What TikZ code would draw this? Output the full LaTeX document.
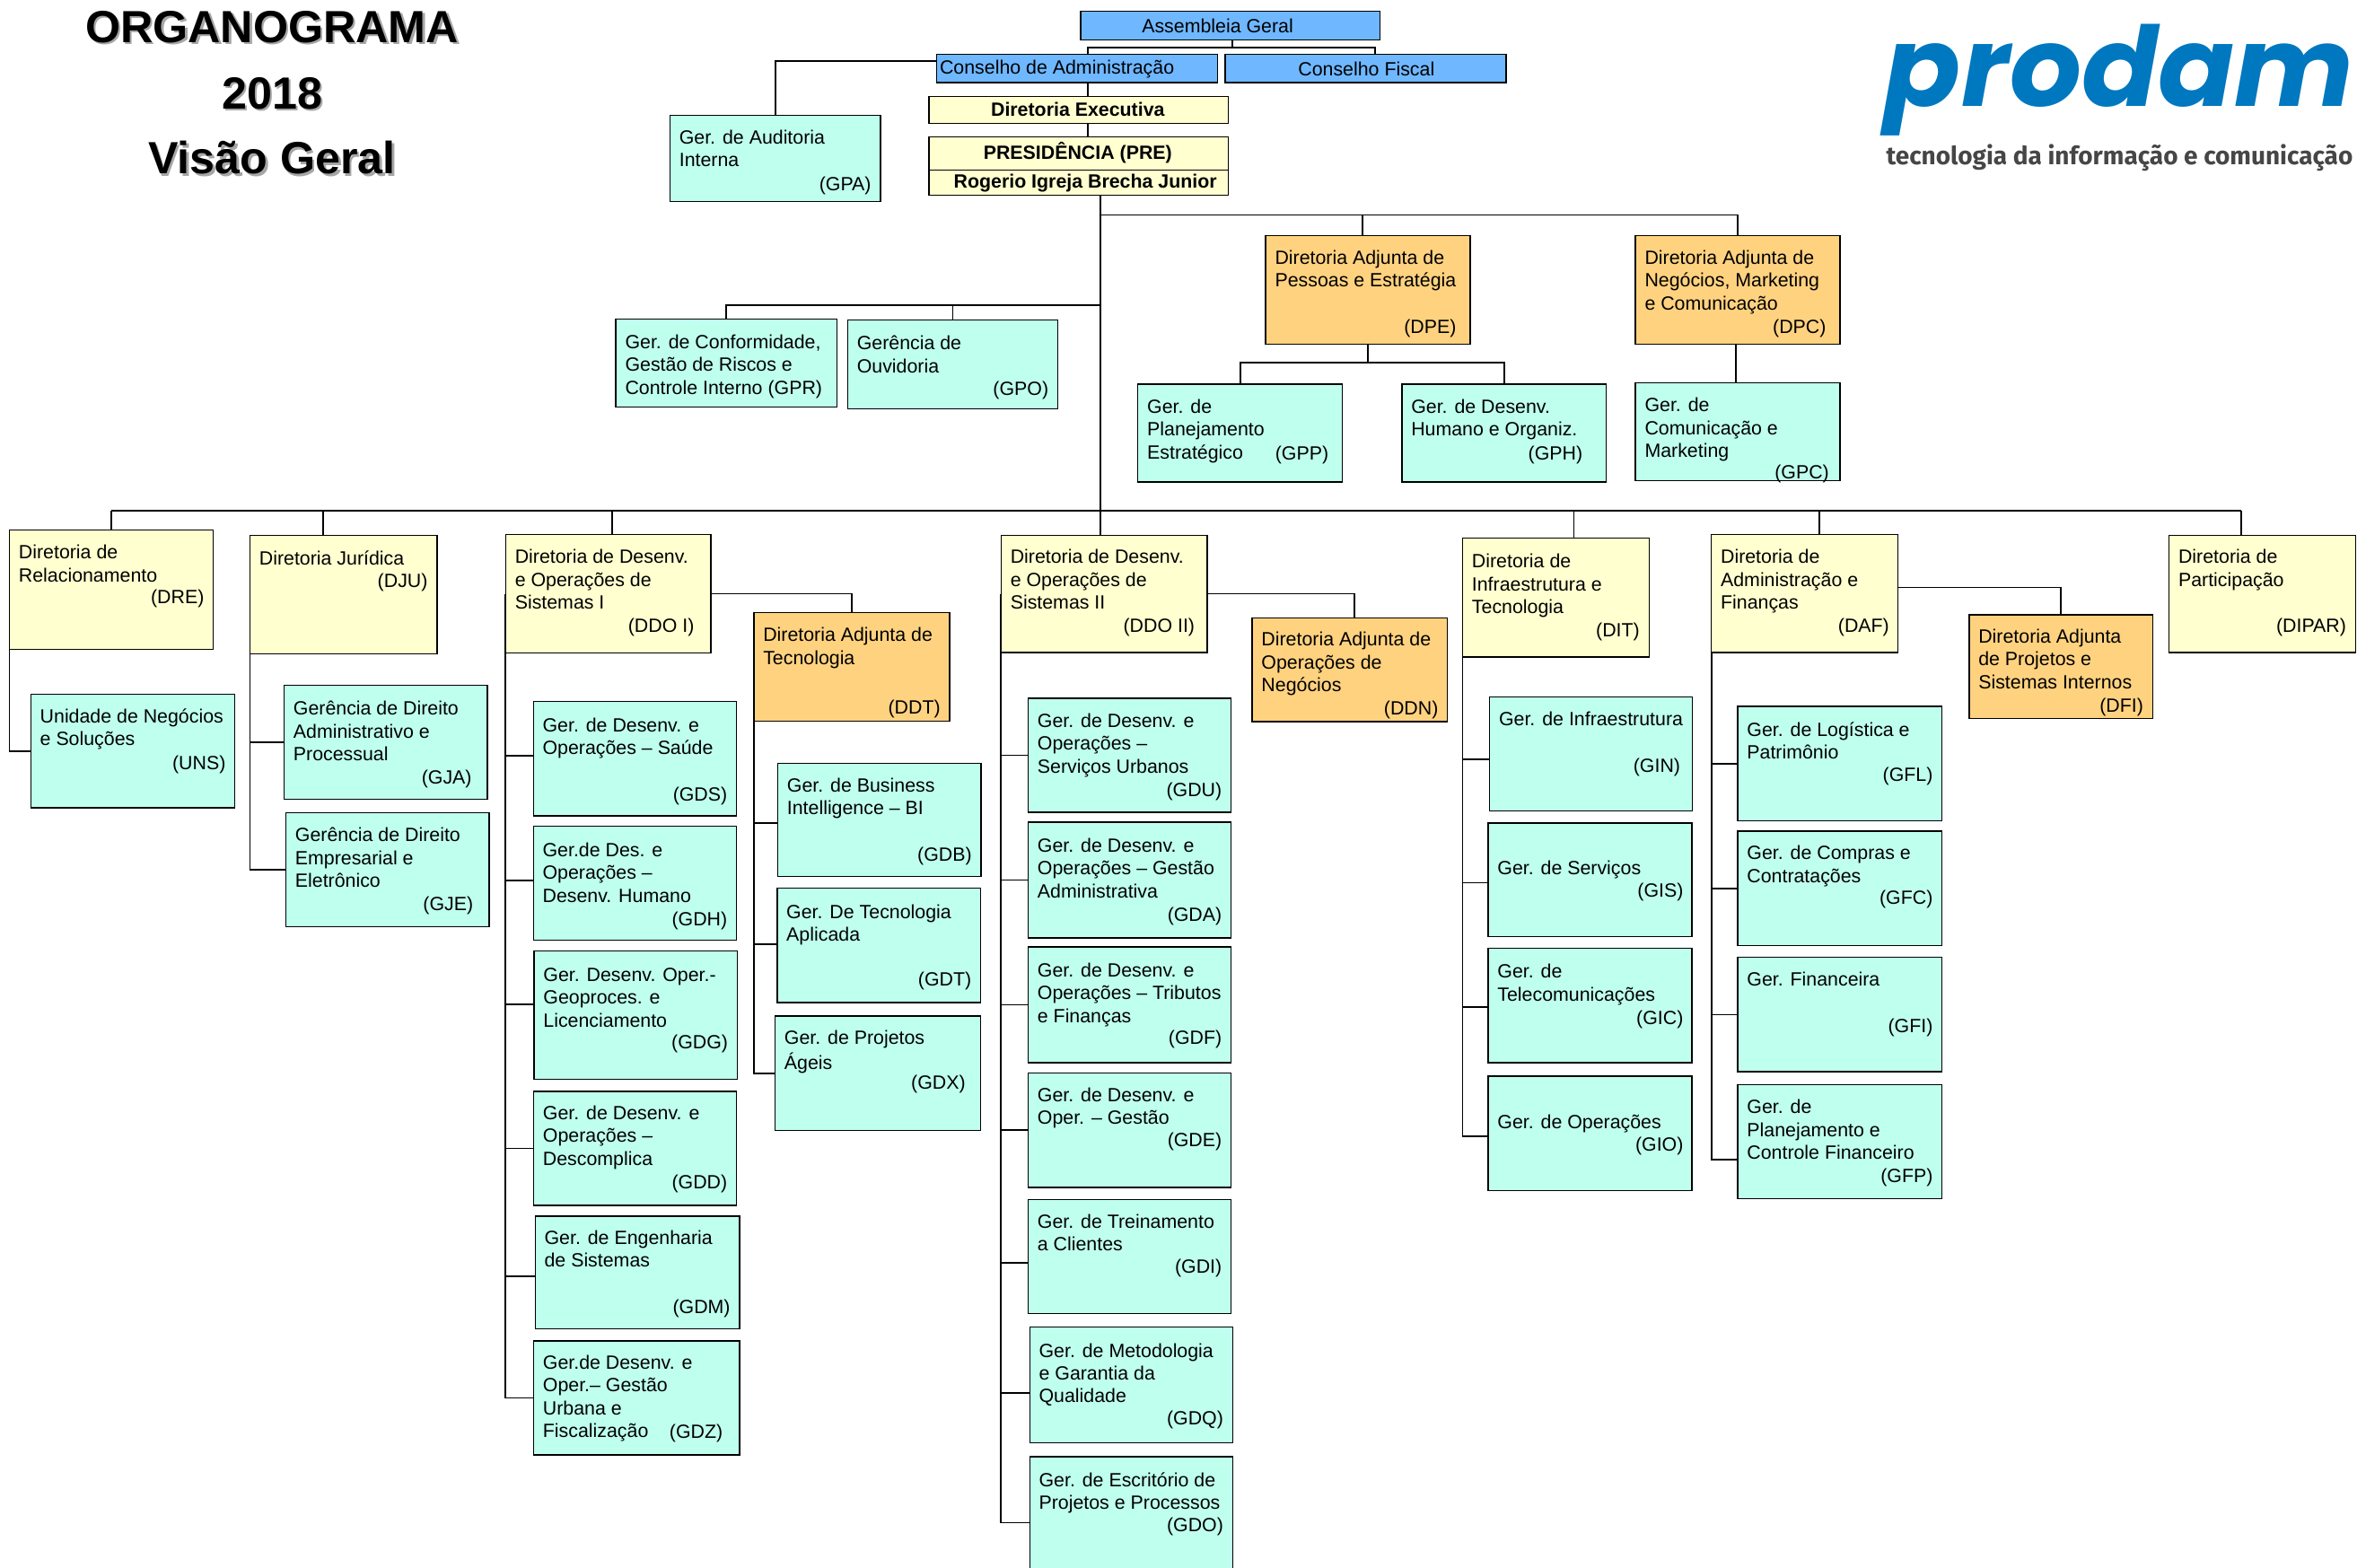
\documentclass[tikz,border=0pt]{standalone}
\usepackage{fontspec}
\setmainfont{Liberation Sans}
\newfontfamily\logofont{Poppins}
\newfontfamily\tagfont{Fira Sans}
\definecolor{mint}{RGB}{191,255,238}
\definecolor{lemon}{RGB}{255,255,208}
\definecolor{amber}{RGB}{255,210,127}
\definecolor{sky}{RGB}{111,183,255}
\definecolor{logoblue}{RGB}{0,120,192}
\definecolor{taggray}{RGB}{70,70,70}
\newcommand{\bx}[8]{%
  \node[#6,anchor=north west,minimum width={#4pt-#2pt},minimum height={#5pt-#3pt}] (#1) at (#2,#3) {};
  \node[boxtext] at ({#2+6},{#8-6}) {\strut #7};}
\newcommand{\cd}[3]{\node[codetext] at (#1,{#2-6}) {\strut #3};}
\newcommand{\up}[2]{\draw[link] ([xshift=#2pt]#1.north) -- ([xshift=#2pt]#1.north |- bar);}
\newcommand{\stub}[3][0]{\draw[link] ([yshift=#1pt]#3.west) -- ([yshift=#1pt]#3.west -| #2.west);}
\tikzset{
  box/.style={draw=black,line width=0.8pt,inner sep=0pt,outer sep=0pt},
  tealbox/.style={box,fill=mint},
  yelbox/.style={box,fill=lemon},
  orabox/.style={box,fill=amber},
  blubox/.style={box,fill=sky},
  boxtext/.style={anchor=north west,inner sep=0pt,align=left,font=\fontsize{12.75}{15.2}\selectfont},
  codetext/.style={anchor=north east,inner sep=0pt,font=\fontsize{12.75}{15.2}\selectfont},
  toptext/.style={inner sep=0pt,font=\fontsize{12.75}{15.2}\selectfont},
  boldtext/.style={inner sep=0pt,font=\fontsize{12.75}{15.2}\selectfont\bfseries},
  titletext/.style={inner sep=0pt,font=\fontsize{30}{32}\selectfont\bfseries},
  link/.style={draw=black,line width=1.1pt},
}
\begin{document}
\begin{tikzpicture}[x=1pt,y=-1pt]
\useasboundingbox (0,0) rectangle (1568,1042.6);
% title
\foreach \t/\y in {ORGANOGRAMA/18,2018/62,Visão Geral/105}{
  \node[titletext,text=black!35] at (182.5,{\y+1.5}) {\t};
  \node[titletext] at (181,\y) {\t};
}
% logo
\node[inner sep=0pt,text=logoblue,font=\logofont\bfseries\itshape\fontsize{82}{82}\selectfont,anchor=base,xscale=0.915,yscale=0.9] (logo) at (1410,71) {prodam};
\node[inner sep=0pt,text=taggray,font=\tagfont\bfseries\fontsize{16.7}{18}\selectfont] (tag) at (1410,105) {tecnologia da informação e comunicação};
% top
\node[blubox,minimum width=199pt,minimum height=19pt,anchor=north west] (ag) at (719,7.5) {};
\node[toptext] at (810,17) {Assembleia Geral};
\node[blubox,minimum width=187pt,minimum height=19pt,anchor=north west] (ca) at (623,36) {};
\node[toptext,anchor=west] at (625,46) {Conselho de Administração};
\node[blubox,minimum width=187pt,minimum height=19pt,anchor=north west] (cf) at (815,36) {};
\node[toptext] at (909,46) {Conselho Fiscal};
\node[yelbox,minimum width=199pt,minimum height=18pt,anchor=north west] (de) at (618,64) {};
\node[boldtext] at (717,73) {Diretoria Executiva};
\node[yelbox,minimum width=199pt,minimum height=22pt,anchor=north west] (pre) at (618,91) {};
\node[boldtext] at (717,101.5) {PRESIDÊNCIA (PRE)};
\node[yelbox,minimum width=199pt,minimum height=17pt,anchor=north west] (rog) at (618,113) {};
\node[boldtext] at (722,122) {Rogerio Igreja Brecha Junior};
% boxes
\bx{gpa}{445.7}{76.8}{585.7}{134}{tealbox}{Ger. de Auditoria\\Interna}{91}\cd{579.7}{122}{(GPA)}
\bx{gpr}{409.7}{212.3}{556.8}{270.8}{tealbox}{Ger. de Conformidade,\\Gestão de Riscos e\\Controle Interno (GPR)}{227}
\bx{gpo}{563.9}{213}{703.7}{272}{tealbox}{Gerência de\\Ouvidoria}{228}\cd{697.7}{258}{(GPO)}
\bx{dpe}{842}{156.7}{978}{229}{orabox}{Diretoria Adjunta de\\Pessoas e Estratégia}{171}\cd{969}{217}{(DPE)}
\bx{dpc}{1088}{156.7}{1224}{229}{orabox}{Diretoria Adjunta de\\Negócios, Marketing\\e Comunicação}{171}\cd{1215}{217}{(DPC)}
\bx{gpp}{757}{255.6}{893}{320.7}{tealbox}{Ger. de\\Planejamento\\Estratégico}{270}\cd{884}{301}{(GPP)}
\bx{gph}{932.6}{255.6}{1068.6}{320.7}{tealbox}{Ger. de Desenv.\\Humano e Organiz.}{270}\cd{1053}{301}{(GPH)}
\bx{gpc}{1088}{254.8}{1224}{319.6}{tealbox}{Ger. de\\Comunicação e\\Marketing}{269}\cd{1217}{314}{(GPC)}
\bx{dre}{6.3}{352.6}{142}{431.9}{yelbox}{Diretoria de\\Relacionamento}{367}\cd{136}{397}{(DRE)}
\bx{dju}{166.3}{356}{290.7}{435}{yelbox}{Diretoria Jurídica}{371}\cd{284.7}{386}{(DJU)}
\bx{ddoi}{336.4}{355.6}{473}{434.4}{yelbox}{Diretoria de Desenv.\\e Operações de\\Sistemas I}{370}\cd{462}{416}{(DDO I)}
\bx{ddt}{501.5}{407.4}{631.8}{479.6}{orabox}{Diretoria Adjunta de\\Tecnologia}{422}\cd{625.8}{470}{(DDT)}
\bx{uns}{20.5}{461.8}{156.3}{537.4}{tealbox}{Unidade de Negócios\\e Soluções}{476}\cd{150.3}{507}{(UNS)}
\bx{gja}{189}{455.9}{324.3}{531.7}{tealbox}{Gerência de Direito\\Administrativo e\\Processual}{471}\cd{314}{517}{(GJA)}
\bx{gje}{190.2}{540.8}{325.5}{616.5}{tealbox}{Gerência de Direito\\Empresarial e\\Eletrônico}{555}\cd{315}{601}{(GJE)}
\bx{gds}{354.8}{466.8}{490}{542.7}{tealbox}{Ger. de Desenv. e\\Operações – Saúde}{482}\cd{484}{528}{(GDS)}
\bx{gdh}{354.8}{549.7}{490}{625.6}{tealbox}{Ger.de Des. e\\Operações –\\Desenv. Humano}{565}\cd{484}{611}{(GDH)}
\bx{gdg}{355.3}{632.7}{490.5}{718}{tealbox}{Ger. Desenv. Oper.-\\Geoproces. e\\Licenciamento}{648}\cd{484.5}{693}{(GDG)}
\bx{gdd}{355}{726}{490}{802}{tealbox}{Ger. de Desenv. e\\Operações –\\Descomplica}{740}\cd{484}{786}{(GDD)}
\bx{gdm}{356}{809}{492}{884}{tealbox}{Ger. de Engenharia\\de Sistemas}{823}\cd{486}{869}{(GDM)}
\bx{gdz}{355}{892}{492}{968}{tealbox}{Ger.de Desenv. e\\Oper.– Gestão\\Urbana e\\Fiscalização}{906}\cd{481}{952}{(GDZ)}
\bx{gdb}{517.4}{507.7}{652.7}{583}{tealbox}{Ger. de Business\\Intelligence – BI}{522}\cd{646.7}{568}{(GDB)}
\bx{gdt}{517}{591}{652.4}{667}{tealbox}{Ger. De Tecnologia\\Aplicada}{606}\cd{646.4}{651}{(GDT)}
\bx{gdx}{515.6}{676}{652.5}{752}{tealbox}{Ger. de Projetos\\Ágeis}{690}\cd{642.5}{720}{(GDX)}
\bx{ddoii}{666}{356}{803}{434}{yelbox}{Diretoria de Desenv.\\e Operações de\\Sistemas II}{370}\cd{795}{416}{(DDO II)}
\bx{ddn}{833}{411}{963}{480}{orabox}{Diretoria Adjunta de\\Operações de\\Negócios}{425}\cd{957}{471}{(DDN)}
\bx{gdu}{684}{464.6}{819}{540.4}{tealbox}{Ger. de Desenv. e\\Operações –\\Serviços Urbanos}{479}\cd{813}{525}{(GDU)}
\bx{gda}{684}{547}{819}{624}{tealbox}{Ger. de Desenv. e\\Operações – Gestão\\Administrativa}{562}\cd{813}{608}{(GDA)}
\bx{gdf}{684}{630}{819}{707}{tealbox}{Ger. de Desenv. e\\Operações – Tributos\\e Finanças}{645}\cd{813}{690}{(GDF)}
\bx{gde}{684}{714}{819}{790}{tealbox}{Ger. de Desenv. e\\Oper. – Gestão}{728}\cd{813}{758}{(GDE)}
\bx{gdi}{684}{798}{819}{874}{tealbox}{Ger. de Treinamento\\a Clientes}{812}\cd{813}{842}{(GDI)}
\bx{gdq}{685}{883}{820}{960}{tealbox}{Ger. de Metodologia\\e Garantia da\\Qualidade}{898}\cd{814}{943}{(GDQ)}
\bx{gdo}{685}{969}{820}{1057}{tealbox}{Ger. de Escritório de\\Projetos e Processos}{984}\cd{814}{1014}{(GDO)}
\bx{dit}{973}{358}{1097}{437}{yelbox}{Diretoria de\\Infraestrutura e\\Tecnologia}{373}\cd{1091}{419}{(DIT)}
\bx{gin}{991}{463.8}{1126}{539.3}{tealbox}{Ger. de Infraestrutura}{478}\cd{1118}{509}{(GIN)}
\bx{gis}{990}{547.5}{1125.5}{623}{tealbox}{Ger. de Serviços}{577}\cd{1120}{592}{(GIS)}
\bx{gic}{990}{631}{1125.5}{707}{tealbox}{Ger. de\\Telecomunicações}{646}\cd{1120}{677}{(GIC)}
\bx{gio}{990}{716}{1125.5}{792}{tealbox}{Ger. de Operações}{746}\cd{1120}{761}{(GIO)}
\bx{daf}{1138.5}{355.6}{1262.7}{434}{yelbox}{Diretoria de\\Administração e\\Finanças}{370}\cd{1257}{416}{(DAF)}
\bx{dfi}{1310}{409}{1432}{478}{orabox}{Diretoria Adjunta\\de Projetos e\\Sistemas Internos}{423}\cd{1426}{469}{(DFI)}
\bx{gfl}{1156}{470}{1292}{546}{tealbox}{Ger. de Logística e\\Patrimônio}{485}\cd{1286}{515}{(GFL)}
\bx{gfc}{1156}{553}{1292}{629}{tealbox}{Ger. de Compras e\\Contratações}{567}\cd{1286}{597}{(GFC)}
\bx{gfi}{1156}{637}{1292}{713}{tealbox}{Ger. Financeira}{651}\cd{1286}{682}{(GFI)}
\bx{gfp}{1156}{721.5}{1292}{797.5}{tealbox}{Ger. de\\Planejamento e\\Controle Financeiro}{736}\cd{1286}{782}{(GFP)}
\bx{dipar}{1443}{356}{1567}{434}{yelbox}{Diretoria de\\Participação}{370}\cd{1561}{416}{(DIPAR)}
% connectors top
\coordinate (agsplit) at (820,31.5);
\coordinate (trunktop) at (732,130);
\coordinate (bar) at (732,340);
\coordinate (upperbar) at (732,143);
\coordinate (midbar) at (732,203);
\coordinate (dpesplit) at (910,241);
\draw[link] (ag.south -| agsplit) -- (agsplit);
\draw[link] ([xshift=7.2pt]ca.north) |- (agsplit) -| ([xshift=6.5pt]cf.north);
\draw[link] ([xshift=7.2pt]ca.south) -- ([xshift=6.2pt]de.north);
\draw[link] ([xshift=6.2pt]de.south) -- ([xshift=6.2pt]pre.north);
\draw[link] (trunktop) -- (bar);
\draw[link] (gpa.north) |- ([yshift=5pt]ca.west);
% upper branches
\draw[link] (upperbar) -- (upperbar -| dpc.north) -- (dpc.north);
\draw[link] ([xshift=-3.5pt]dpe.north) -- ([xshift=-3.5pt]dpe.north |- upperbar);
\draw[link] (midbar) -- (midbar -| gpr.north) -- (gpr.north);
\draw[link] (gpo.north) -- (gpo.north |- midbar);
\draw[link] (dpe.south) -- (dpe.south |- dpesplit);
\draw[link] (gpp.north) |- (dpesplit) -| (gph.north);
\draw[link] ([xshift=-1pt]dpc.south) -- ([xshift=-1pt]gpc.north);
% main bar
\draw[link] (dre.north |- bar) -- ([xshift=-14pt]bar -| dipar.north);
\up{dre}{0}\up{dju}{-13.5}\up{ddoi}{2.3}\up{ddoii}{-2.5}\up{dit}{12}\up{daf}{9.5}\up{dipar}{-14}
% columns
\draw[link] (dre.south west) |- (uns.west);
\draw[link] (dju.west) |- (gje.west); \stub{dju}{gja}
\draw[link] (ddoi.west) |- (gdz.west);
\stub[2]{ddoi}{gds}\stub[2]{ddoi}{gdh}\stub[7]{ddoi}{gdg}\stub{ddoi}{gdd}\stub[-2.5]{ddoi}{gdm}
\draw[link] (ddt.south west) |- (gdx.west);
\stub[-2]{ddt}{gdb}\stub[1]{ddt}{gdt}
\draw[link] (ddoii.west) |- (gdo.west);
\stub{ddoii}{gdu}\stub{ddoii}{gda}\stub{ddoii}{gdf}\stub{ddoii}{gde}\stub[-4]{ddoii}{gdi}\stub[-5]{ddoii}{gdq}
\draw[link] (dit.south west) |- ([yshift=-2pt]gio.west);
\stub[-3.4]{dit}{gin}\stub[-2]{dit}{gis}\stub[-1]{dit}{gic}
\draw[link] (daf.south west) |- ([yshift=-12.2pt]gfp.west);
\stub{daf}{gfl}\stub{daf}{gfc}\stub{daf}{gfi}
% adjuntas
\draw[link] (ddoi.east) -- (ddoi.east -| ddt.north) -- (ddt.north);
\draw[link] (ddoii.east) -- ([xshift=3pt]ddoii.east -| ddn.north) -- ([xshift=3pt]ddn.north);
\draw[link] ([yshift=4pt]daf.east) -- ([yshift=4pt]daf.east -| dfi.north) -- (dfi.north);
\end{tikzpicture}
\end{document}
